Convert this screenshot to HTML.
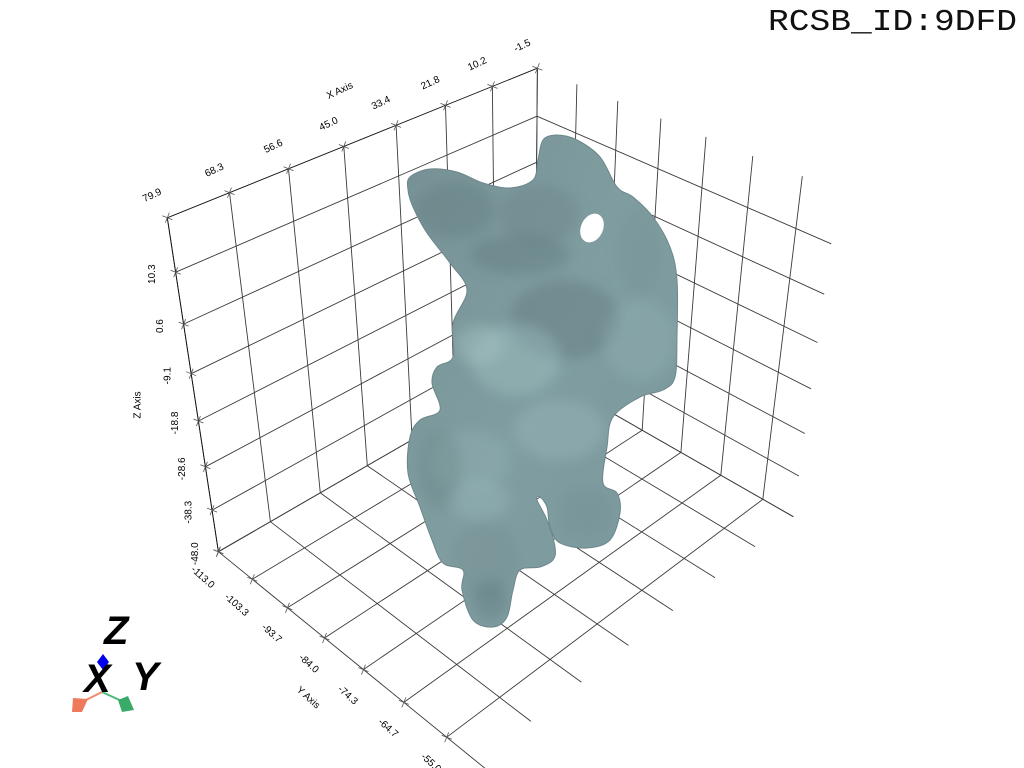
<!DOCTYPE html>
<html><head><meta charset="utf-8"><title>RCSB_ID:9DFD</title>
<style>
html,body{margin:0;padding:0;background:#fff;}
svg{display:block;}
text{font-family:"Liberation Sans",sans-serif;}
</style></head>
<body>
<svg id="chart" width="1024" height="768" viewBox="0 0 1024 768" xmlns="http://www.w3.org/2000/svg">
<defs>
<clipPath id="molclip"><path id="molpathc" d=""/></clipPath>
<linearGradient id="molgrad" x1="0" y1="0" x2="1" y2="1">
<stop offset="0" stop-color="#769195"/><stop offset="0.5" stop-color="#809ea1"/><stop offset="1" stop-color="#7a989c"/>
</linearGradient>
<filter id="blur6"><feGaussianBlur stdDeviation="6"/></filter>
</defs>
<g id="grid"></g>
<g id="ticks"></g>
<g id="labels"></g>
<g id="molecule"></g>
<text x="768" y="30" font-family="Liberation Mono, monospace" font-size="31" fill="#111" textLength="249" lengthAdjust="spacingAndGlyphs" style="font-family:'Liberation Mono',monospace">RCSB_ID:9DFD</text>
<g>
<line x1="102" y1="692" x2="80" y2="703" stroke="#f08a6a" stroke-width="2"/>
<line x1="102" y1="692" x2="126" y2="703" stroke="#4cbb7a" stroke-width="2"/>
<path d="M73,698 L88,699 L82,712 L72,712 Z" fill="#ee7a5c"/>
<path d="M118,700 L128,696 L134,710 L122,712 Z" fill="#3aaa68"/>
<path d="M103,654 L109,662 L103,670 L97,662 Z" fill="#0000ee"/>
<text x="104" y="644" font-size="40" font-weight="bold" font-style="italic" fill="#000">Z</text>
<text x="84" y="692" font-size="40" font-weight="bold" font-style="italic" fill="#000">X</text>
<text x="132" y="690" font-size="40" font-weight="bold" font-style="italic" fill="#000">Y</text>
</g>
</svg>
<script>
const xTicks = [79.9, 68.3, 56.6, 45.0, 33.4, 21.8, 10.2, -1.5];
const yTicks = [-113.0, -103.3, -93.7, -84.0, -74.3, -64.7, -55.0];
const zTicks = [10.3, 0.6, -9.1, -18.8, -28.6, -38.3, -48.0];
const zTop = 20.0;
const yEnd = -48.2;
const xLabels = ["79.9","68.3","56.6","45.0","33.4","21.8","10.2","-1.5"];
const yLabels = ["-113.0","-103.3","-93.7","-84.0","-74.3","-64.7","-55.0"];
const zLabels = ["10.3","0.6","-9.1","-18.8","-28.6","-38.3","-48.0"];

const NS = "http://www.w3.org/2000/svg";
function U(X){ return (xTicks[0]-X)/((xTicks[0]-xTicks[7])/7); }
function V(Y){ return (Y-yTicks[0])/((yTicks[6]-yTicks[0])/6); }
function W(Z){ return (zTop-Z)/((zTop-zTicks[6])/7); }

const calib = [
 [0,0,0,167,220],[1,0,0,230,195],[3,0,0,343,148],[7,0,0,537,71],
 [0,0,1,175,266],[0,0,3,191,372],[0,0,7,220,554],
 [0,2,7,288,609],[0,4,7,363,669],[0,6,7,446,737],
 [7,6,0,804,176],[7,6,7,762,499],[7,3,0,661,120],[7,3,7,642,430],[7,0,1,537,112]
];
function solve(){
  const A=[],b=[];
  calib.forEach(c=>{const [u,v,w,x,y]=c;
    A.push([u,v,w,1,0,0,0,0,-x*u,-x*v,-x*w]); b.push(x);
    A.push([0,0,0,0,u,v,w,1,-y*u,-y*v,-y*w]); b.push(y);});
  const n=11, M=[];
  for(let i=0;i<n;i++){M.push([]);for(let j=0;j<=n;j++){let s=0;
    for(let k=0;k<A.length;k++) s+=A[k][i]*(j<n?A[k][j]:b[k]); M[i].push(s);}}
  for(let i=0;i<n;i++){let p=i;for(let r=i+1;r<n;r++) if(Math.abs(M[r][i])>Math.abs(M[p][i])) p=r;
    [M[i],M[p]]=[M[p],M[i]];
    for(let r=0;r<n;r++){ if(r===i) continue; const f=M[r][i]/M[i][i];
      for(let c=i;c<=n;c++) M[r][c]-=f*M[i][c]; }}
  return M.map((r,i)=>r[n]/r[i]);
}
const P = solve();
function proj(X,Y,Z){
  const u=U(X),v=V(Y),w=W(Z);
  const d=P[8]*u+P[9]*v+P[10]*w+1;
  return [(P[0]*u+P[1]*v+P[2]*w+P[3])/d,(P[4]*u+P[5]*v+P[6]*w+P[7])/d];
}
const gGrid=document.getElementById('grid');
function seg(a,b,name,col){
  const p=proj(...a),q=proj(...b);
  const l=document.createElementNS(NS,'line');
  l.setAttribute('x1',p[0].toFixed(1));l.setAttribute('y1',p[1].toFixed(1));
  l.setAttribute('x2',q[0].toFixed(1));l.setAttribute('y2',q[1].toFixed(1));
  l.setAttribute('stroke',col||'#3a3a3a');l.setAttribute('stroke-width','0.9');
  
  
  gGrid.appendChild(l);
}
const x0=xTicks[0],x1=xTicks[7],y0=yTicks[0],zB=zTicks[6];
xTicks.forEach(X=>seg([X,y0,zTop],[X,y0,zB],'left-wall-vertical-gridline'));
seg([x0,y0,zTop],[x1,y0,zTop],'x-axis-line','#111');
zTicks.forEach(Z=>seg([x0,y0,Z],[x1,y0,Z],'left-wall-horizontal-gridline'));
yTicks.forEach(Y=>seg([x1,Y,zTop],[x1,Y,zB],'back-wall-vertical-gridline'));
zTicks.forEach(Z=>seg([x1,y0,Z],[x1,yEnd,Z],'back-wall-horizontal-gridline'));
xTicks.forEach((X,i)=>seg([X,y0,zB],[X,i===0?-38:yEnd,zB],'floor-gridline-y-direction'));
yTicks.forEach(Y=>seg([x0,Y,zB],[x1,Y,zB],'floor-gridline-x-direction'));
seg([x0,y0,zTop],[x0,y0,zB],'z-axis-line','#111');

const gT=document.getElementById('ticks'), gL=document.getElementById('labels');
function cross(p){
  [[-5,-2,5,2],[-2,5,2,-5]].forEach(d=>{
    const l=document.createElementNS(NS,'line');
    l.setAttribute('x1',p[0]+d[0]);l.setAttribute('y1',p[1]+d[1]);
    l.setAttribute('x2',p[0]+d[2]);l.setAttribute('y2',p[1]+d[3]);
    l.setAttribute('stroke','#555');l.setAttribute('stroke-width','0.8');
    
    
    gT.appendChild(l);});
}
function label(txt,x,y,rot,name,size){
  const t=document.createElementNS(NS,'text');
  t.setAttribute('x',x.toFixed(1));t.setAttribute('y',y.toFixed(1));
  t.setAttribute('font-size',size||10);t.setAttribute('fill','#000');
  t.setAttribute('text-anchor','middle');t.setAttribute('dominant-baseline','central');
  t.setAttribute('transform','rotate('+rot+' '+x.toFixed(1)+' '+y.toFixed(1)+')');
  
  
  t.textContent=txt; gL.appendChild(t);
}
xTicks.forEach((X,i)=>{const p=proj(X,y0,zTop);cross(p);label(xLabels[i],p[0]-15,p[1]-22,-25,'x-tick-label');});
zTicks.forEach((Z,i)=>{const p=proj(x0,y0,Z);cross(p);label(zLabels[i],p[0]-23,p[1]+2,-90,'z-tick-label');});
yTicks.forEach((Y,i)=>{const p=proj(x0,Y,zB);cross(p);label(yLabels[i],p[0]-16,p[1]+26,42,'y-tick-label');});
cross(proj(x0,-45.3,zB));
label('X Axis',340,91,-25,'x-axis-title');
label('Z Axis',138,405,-90,'z-axis-title');
label('Y Axis',308,698,42,'y-axis-title');

const outline=[[410,177],[430,169],[457,172],[483,183],[510,188],[533,180],[538,160],[543,140],[557,135],[577,140],[600,157],[617,187],[633,197],[653,217],[670,247],[677,280],[677,337],[675,377],[663,390],[640,397],[613,417],[607,447],[603,483],[617,493],[620,513],[610,540],[587,548],[560,543],[550,527],[547,507],[540,497],[537,500],[547,520],[555,547],[553,560],[540,567],[520,570],[513,590],[507,617],[493,627],[473,620],[462,590],[463,570],[443,563],[432,540],[420,507],[408,473],[410,437],[420,420],[440,410],[432,383],[437,367],[453,357],[453,323],[467,290],[450,263],[427,233],[413,207],[408,190]];
function smooth(pts){
  let d='M'+pts[0][0]+','+pts[0][1];
  const n=pts.length;
  for(let i=0;i<n;i++){
    const p0=pts[(i-1+n)%n],p1=pts[i],p2=pts[(i+1)%n],p3=pts[(i+2)%n];
    const c1=[p1[0]+(p2[0]-p0[0])/6,p1[1]+(p2[1]-p0[1])/6];
    const c2=[p2[0]-(p3[0]-p1[0])/6,p2[1]-(p3[1]-p1[1])/6];
    d+=' C'+c1[0].toFixed(1)+','+c1[1].toFixed(1)+' '+c2[0].toFixed(1)+','+c2[1].toFixed(1)+' '+p2[0]+','+p2[1];
  }
  return d+'Z';
}
const md=smooth(outline);
document.getElementById('molpathc').setAttribute('d',md);
const gM=document.getElementById('molecule');
const body=document.createElementNS(NS,'path');
body.setAttribute('d',md);body.setAttribute('fill','url(#molgrad)');body.setAttribute('stroke','#6d878b');body.setAttribute('stroke-width','1');


gM.appendChild(body);
const shades=[
 [455,210,40,28,'#5f777b',0.35],[540,215,40,30,'#637c80',0.3],[565,320,55,40,'#5a7175',0.35],
 [520,255,50,20,'#566d71',0.3],[640,340,36,40,'#98b6b8',0.3],[515,360,45,35,'#a3c2c3',0.4],
 [480,345,25,20,'#a7c5c6',0.4],[560,430,45,30,'#a0bec0',0.35],[470,460,40,30,'#96b4b6',0.35],
 [440,470,22,40,'#657e82',0.3],[485,560,35,40,'#6a8387',0.25],[480,500,30,20,'#a3c1c2',0.3],
 [585,512,28,25,'#6e888c',0.25],[490,600,18,20,'#5d7579',0.35],[640,250,22,45,'#6c868a',0.25]
];
const gS=document.createElementNS(NS,'g');gS.setAttribute('clip-path','url(#molclip)');


const gS2=document.createElementNS(NS,'g');gS2.setAttribute('filter','url(#blur6)');
shades.forEach(s=>{const e=document.createElementNS(NS,'ellipse');
 e.setAttribute('cx',s[0]);e.setAttribute('cy',s[1]);e.setAttribute('rx',s[2]);e.setAttribute('ry',s[3]);
 e.setAttribute('fill',s[4]);e.setAttribute('opacity',s[5]);
 
 
 gS2.appendChild(e);});
gS.appendChild(gS2);
gM.appendChild(gS);
const hole=document.createElementNS(NS,'ellipse');
hole.setAttribute('cx','592');hole.setAttribute('cy','228');hole.setAttribute('rx','11');hole.setAttribute('ry','15');
hole.setAttribute('transform','rotate(25 592 228)');hole.setAttribute('fill','#fff');


gM.appendChild(hole);
</script>
</body></html>
